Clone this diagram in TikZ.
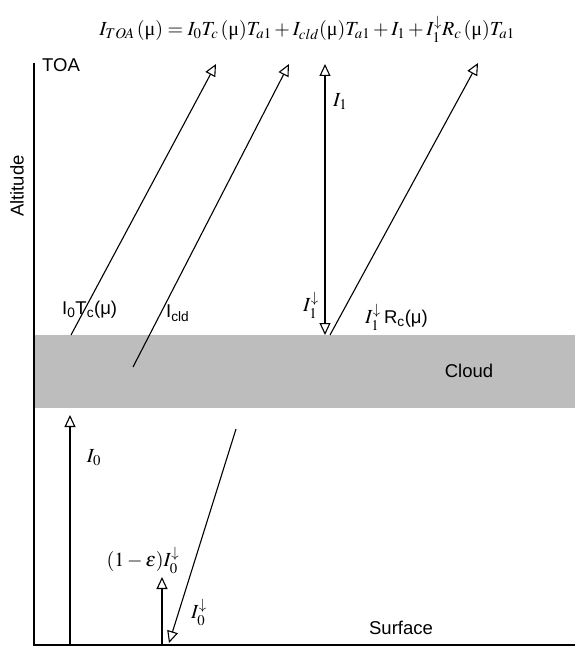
\documentclass[tikz,border=0pt]{standalone}
\usepackage{mathptmx}
\usepackage[no-math]{fontspec}
\setmainfont{Liberation Sans}
\newfontfamily\tms{Liberation Serif}
\usetikzlibrary{arrows.meta}
\newcommand\umu{\mbox{\tms μ}}
\definecolor{cloudgray}{RGB}{189,189,189}
\tikzset{
  ln/.style={line width=1.1pt, black},
  tip/.style={},
  arr/.style={ln, -{Triangle[open,length=12pt,width=11pt,line width=1.1pt]}},
  darr/.style={ln, {Triangle[open,length=12pt,width=11pt,line width=1.1pt]}-{Triangle[open,length=12pt,width=11pt,line width=1.1pt]}},
  sans/.style={inner sep=0pt, font=\fontsize{18.5}{20}\selectfont},
  mth/.style={inner sep=0pt, font=\fontsize{20}{22}\selectfont},
}
\begin{document}
\begin{tikzpicture}[x=1pt,y=-1pt]
\useasboundingbox (0,0) rectangle (575,647);
% cloud layer
\fill[cloudgray] (34,335) rectangle (575,408);
\node[sans] (cloud) at (469,371) {Cloud};
% axes
\coordinate (top) at (34,63);
\coordinate (origin) at (34,645);
\coordinate (right) at (575,645);
\draw[line width=1.3pt] (top) -- (origin) -- (right);
\node[sans, anchor=west] (toa) at (42,65) {TOA};
\node[sans, rotate=90] (alt) at (17,186) {Altitude};
\node[sans] (surf) at (401,628) {Surface};
% equation
\node[mth] (eq) at (307,29) {$I_{TOA}\,(\umu) = I_0T_c\,(\umu)T_{a1} + I_{cld}(\umu)T_{a1} + I_1 + I_1^{\downarrow}R_c\,(\umu)T_{a1}$};
% upper arrows
\coordinate (a1s) at (71,335);  \coordinate (a1e) at (216,64);
\coordinate (a2s) at (133,367); \coordinate (a2e) at (289,64);
\coordinate (a3t) at (325,64);  \coordinate (a3b) at (325,335);
\coordinate (a4s) at (330,335); \coordinate (a4e) at (478,63);
\draw[arr] (a1s) -- (a1e);
\draw[arr] (a2s) -- (a2e);
\draw[darr] (a3t) -- (a3b);
\draw[arr] (a4s) -- (a4e);
\node[sans, anchor=west] (l1) at (62,310) {I\textsubscript{0}T\textsubscript{c}(μ)};
\node[sans, anchor=west] (l2) at (166,313) {I\textsubscript{cld}};
\node[mth, anchor=west] (l3) at (333,102) {$I_1$};
\node[mth] (l4) at (311,305) {$I_1^{\downarrow}$};
\node[anchor=west, inner sep=0pt] (l5) at (365,317) {\fontsize{20}{22}\selectfont$I_1^{\downarrow}$\,\fontsize{18.5}{20}\selectfont R\textsubscript{c}(μ)};
% lower arrows
\coordinate (b1s) at (70,645);  \coordinate (b1e) at (70,415);
\coordinate (b2s) at (236,429); \coordinate (b2e) at (169,643);
\coordinate (b3s) at (162,645); \coordinate (b3e) at (162,577);
\draw[arr] (b1s) -- (b1e);
\draw[arr] (b2s) -- (b2e);
\draw[arr] (b3s) -- (b3e);
\node[mth] (l6) at (94,458) {$I_0$};
\node[mth] (l7) at (143,560) {$(1-\varepsilon)I_0^{\downarrow}$};
\node[mth] (l8) at (199,612) {$I_0^{\downarrow}$};
\end{tikzpicture}
\end{document}
